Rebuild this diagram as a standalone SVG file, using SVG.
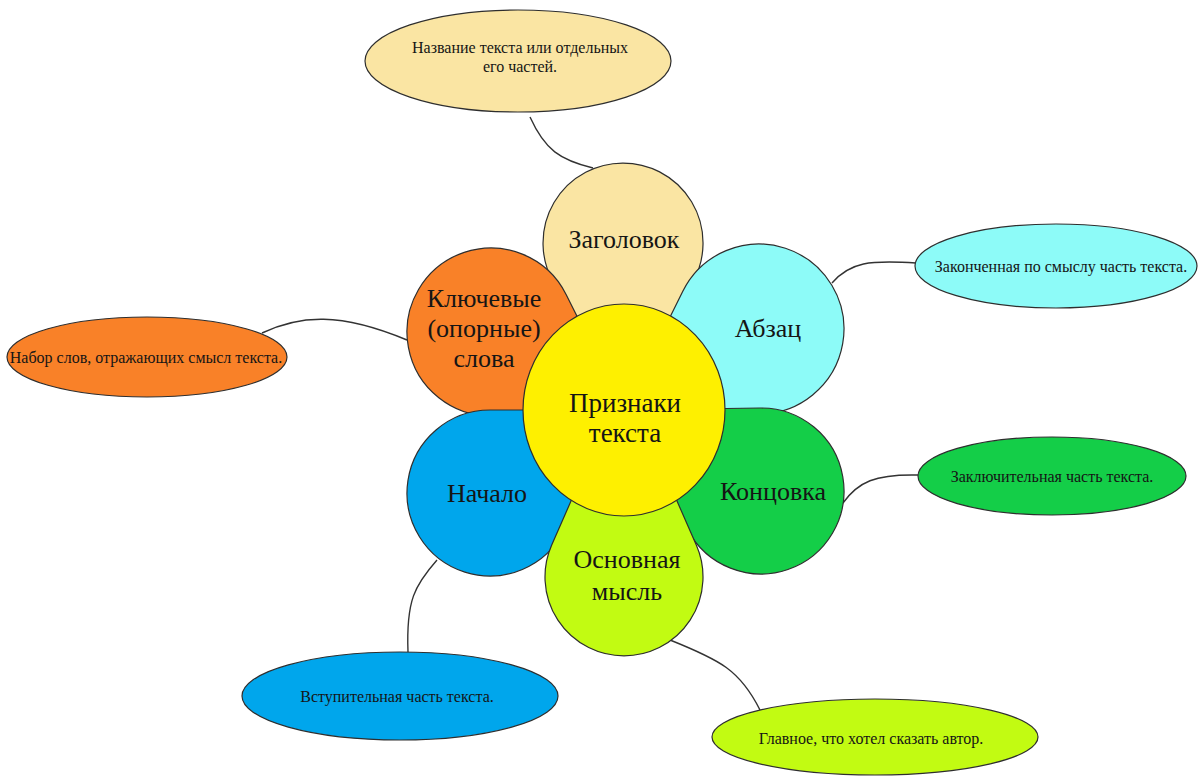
<svg xmlns="http://www.w3.org/2000/svg" width="1200" height="783" viewBox="0 0 1200 783">
<style>
.p{stroke:#2e2e2e;stroke-width:1.2;stroke-linejoin:round}
.c{fill:none;stroke:#333;stroke-width:1.4}
.t{font-family:"Liberation Serif","DejaVu Serif",serif;fill:#151515;text-anchor:middle}
.big{font-size:26px}
.sm{font-size:16px}
</style>
<rect width="1200" height="783" fill="#fff"/>
<g id="connectors">
<path class="c" d="M530,117 C545,150 560,160 593,168"/>
<path class="c" d="M262,333 C300,315 340,312 407,340"/>
<path class="c" d="M832,283 C850,262 870,260 916,263"/>
<path class="c" d="M843,503 C858,482 875,474 918,475"/>
<path class="c" d="M437,560 C415,585 406,600 408,652"/>
<path class="c" d="M670,640 C720,660 740,670 760,710"/>
</g>
<g id="callout-title">
<ellipse class="p" cx="518" cy="61" rx="153" ry="51" fill="#FAE5A3"/>
<text class="t sm" x="520" y="53">Название текста или отдельных</text>
<text class="t sm" x="520" y="72">его частей.</text>
</g>
<g id="callout-keywords">
<ellipse class="p" cx="147" cy="357" rx="140" ry="40" fill="#F98128"/>
<text class="t sm" x="146" y="363">Набор слов, отражающих смысл текста.</text>
</g>
<g id="callout-paragraph">
<ellipse class="p" cx="1056" cy="266" rx="141" ry="42" fill="#8DFBF8"/>
<text class="t sm" x="1061" y="272">Законченная по смыслу часть текста.</text>
</g>
<g id="callout-ending">
<ellipse class="p" cx="1052" cy="476" rx="134" ry="39" fill="#14CE48"/>
<text class="t sm" x="1052" y="482">Заключительная часть текста.</text>
</g>
<g id="callout-beginning">
<ellipse class="p" cx="400" cy="696" rx="158" ry="44" fill="#00A6EC"/>
<text class="t sm" x="397" y="702">Вступительная часть текста.</text>
</g>
<g id="callout-idea">
<ellipse class="p" cx="875" cy="737" rx="163" ry="38" fill="#C2FB12"/>
<text class="t sm" x="871" y="744">Главное, что хотел сказать автор.</text>
</g>
<g id="petal-title">
<path class="p" fill="#FAE5A3" d="M624,410 L553,281.7 A80 80 0 1 1 693.5,280.9 Z"/>
<text class="t big" x="624" y="248">Заголовок</text>
</g>
<g id="petal-keywords">
<path class="p" fill="#F98128" d="M624,410 L566.1,294.4 A84 84 0 1 0 494.8,415.9 Z"/>
<text class="t big" x="484" y="307">Ключевые</text>
<text class="t big" x="484" y="337">(опорные)</text>
<text class="t big" x="484" y="367">слова</text>
</g>
<g id="petal-paragraph">
<path class="p" fill="#8DFBF8" d="M624,410 L682.8,291.3 A85 85 0 1 1 756.4,414 Z"/>
<text class="t big" x="768" y="337">Абзац</text>
</g>
<g id="petal-beginning">
<path class="p" fill="#00A6EC" d="M624,410 L490,410 A83 83 0 1 0 564.3,530 Z"/>
<text class="t big" x="487" y="502">Начало</text>
</g>
<g id="petal-ending">
<path class="p" fill="#14CE48" d="M624,410 L759.8,408 A83 83 0 1 1 687.7,529.9 Z"/>
<text class="t big" x="773" y="500">Концовка</text>
</g>
<g id="petal-idea">
<path class="p" fill="#C2FB12" d="M624,380 L696.4,545.3 A79 79 0 1 1 551.6,545.3 Z"/>
<text class="t big" x="627" y="568">Основная</text>
<text class="t big" x="627" y="600">мысль</text>
</g>
<g id="center">
<ellipse class="p" cx="624" cy="410" rx="101" ry="106" fill="#FEF000"/>
<text class="t big" x="625" y="412" style="font-size:27px">Признаки</text>
<text class="t big" x="625" y="442" style="font-size:27px">текста</text>
</g>
</svg>
